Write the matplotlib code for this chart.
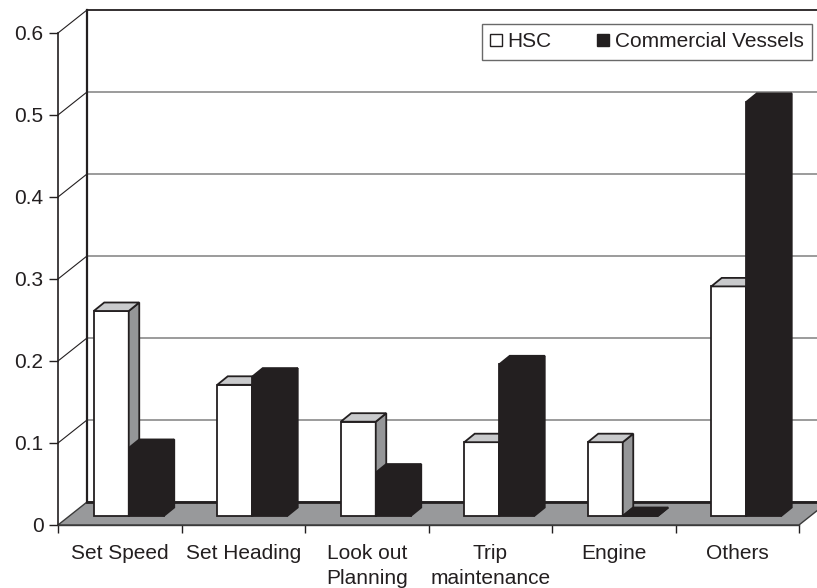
import matplotlib
matplotlib.use("Agg")
import matplotlib.pyplot as plt
from matplotlib.patches import Polygon
from matplotlib.lines import Line2D

plt.rcParams['font.family'] = ['Liberation Sans', 'DejaVu Sans']

categories = ["Set Speed", "Set Heading", "Look out\nPlanning", "Trip\nmaintenance", "Engine", "Others"]
hsc = [0.25, 0.16, 0.115, 0.09, 0.09, 0.28]
commercial = [0.083, 0.17, 0.053, 0.185, 0.0, 0.505]
yticks = [0, 0.1, 0.2, 0.3, 0.4, 0.5, 0.6]
ytick_labels = ["0", "0.1", "0.2", "0.3", "0.4", "0.5", "0.6"]

DARK = '#231f20'
W, H = 817, 588
fig = plt.figure(figsize=(W / 100, H / 100), dpi=100)
ax = fig.add_axes([0, 0, 1, 1])

# pixel scale of the front plane
x0_px, y0_px = 58, 525
cat_px, unit_px = 123.5, 820.0
ax.set_xlim(-x0_px / cat_px, (W - x0_px) / cat_px)
ax.set_ylim(-(H - y0_px) / unit_px, y0_px / unit_px)

def px(dx, dy):
    return dx / cat_px, dy / unit_px

wall_dx, wall_dy = px(29, 23)      # depth of the box (side wall / floor)
front_dx, front_dy = px(9, 9)      # bars sit a little behind the front edge
bar_dx, bar_dy = px(10.5, 8.5)     # depth of each bar
bw = 35 / cat_px
n = len(categories)
xmax = ax.get_xlim()[1] + 1

# floor
floor = Polygon([(0, 0), (n, 0), (n + wall_dx, wall_dy), (wall_dx, wall_dy)],
                closed=True, facecolor='#98999b', edgecolor='#3a3a3a', lw=1, zorder=1)
ax.add_patch(floor)
ax.plot([wall_dx, xmax], [wall_dy, wall_dy], color=DARK, lw=2, zorder=1.5)

# back wall and side wall grid
top = yticks[-1]
ax.plot([wall_dx, wall_dx], [wall_dy, top + wall_dy], color=DARK, lw=1.6, zorder=1.5)
ax.plot([wall_dx, xmax], [top + wall_dy, top + wall_dy], color=DARK, lw=1.3, zorder=1.5)
for v in yticks[1:-1]:
    ax.plot([wall_dx, xmax], [v + wall_dy, v + wall_dy], color='#8a8a8a', lw=1.2, zorder=1.2)
for v in yticks[1:]:
    ax.plot([0, wall_dx], [v, v + wall_dy], color=DARK, lw=0.8, zorder=1.2)

def bar3d(x, h, front, topc, side, z):
    yb = front_dy
    rect = ax.bar(x, h, width=bw, bottom=yb, align='edge', color=front,
                  edgecolor=DARK, linewidth=1.3, zorder=z)
    topface = [(x, yb + h), (x + bw, yb + h), (x + bw + bar_dx, yb + h + bar_dy), (x + bar_dx, yb + h + bar_dy)]
    sideface = [(x + bw, yb), (x + bw + bar_dx, yb + bar_dy), (x + bw + bar_dx, yb + h + bar_dy), (x + bw, yb + h)]
    ax.add_patch(Polygon(sideface, closed=True, facecolor=side, edgecolor=DARK, lw=1.3, zorder=z))
    ax.add_patch(Polygon(topface, closed=True, facecolor=topc, edgecolor=DARK, lw=1.3, zorder=z))
    return rect

for i in range(n):
    xc = i + 0.5 + front_dx
    bar3d(xc - bw, hsc[i], 'white', '#c9cacc', '#959698', 3 + i * 0.1)
    bar3d(xc, commercial[i], DARK, DARK, DARK, 3.05 + i * 0.1)

# axes: left spine as the value axis, bottom spine as the category axis
for s in ['top', 'right']:
    ax.spines[s].set_visible(False)
ax.spines['left'].set_position(('data', 0))
ax.spines['left'].set_bounds(0, top)
ax.spines['left'].set_linewidth(1.2)
ax.spines['left'].set_color(DARK)
ax.spines['bottom'].set_position(('data', 0))
ax.spines['bottom'].set_bounds(0, n)
ax.spines['bottom'].set_linewidth(1.0)
ax.spines['bottom'].set_color('#3a3a3a')

ax.set_yticks(yticks)
ax.set_yticklabels(ytick_labels)
ax.tick_params(axis='y', direction='out', length=6.5, width=1, pad=4, labelsize=15,
               colors=DARK)
ax.set_xticks(range(n + 1))
ax.set_xticklabels([])
ax.set_xticks([i + 0.5 for i in range(n)], minor=True)
ax.set_xticklabels(categories, minor=True, linespacing=1.45)
ax.tick_params(axis='x', which='major', direction='out', length=6, width=1, colors=DARK)
ax.tick_params(axis='x', which='minor', length=0, pad=13.5, labelsize=15, colors=DARK)

handles = [
    Line2D([], [], marker='s', linestyle='none', markersize=8,
           markerfacecolor='white', markeredgecolor=DARK, markeredgewidth=1),
    Line2D([], [], marker='s', linestyle='none', markersize=8,
           markerfacecolor=DARK, markeredgecolor=DARK, markeredgewidth=1),
]
leg = fig.legend(handles, ["HSC", "Commercial Vessels"], ncol=2, fontsize=15,
                 loc='upper right', bbox_to_anchor=(812 / W, 1 - 24 / H),
                 frameon=True, fancybox=False, borderaxespad=0, borderpad=0.4,
                 handlelength=0.55, handletextpad=0.29, columnspacing=2.2,
                 labelcolor=DARK)
leg.get_frame().set_edgecolor('#444444')
leg.get_frame().set_linewidth(1)

fig.savefig("out.png", dpi=100)
